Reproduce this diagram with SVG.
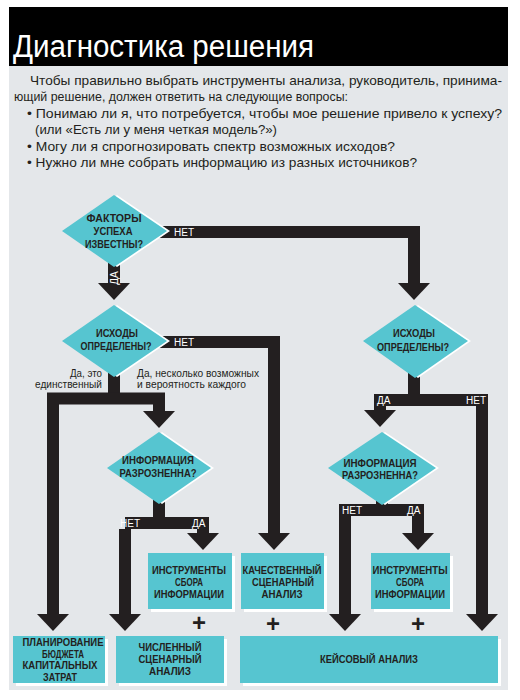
<svg xmlns="http://www.w3.org/2000/svg" width="520" height="700" viewBox="0 0 520 700">
<defs>
<style>
.body{font-family:"Liberation Sans",Arial,sans-serif;font-size:13px;fill:#231f20}
.title{font-family:"Liberation Sans",Arial,sans-serif;font-size:31px;fill:#ffffff}
.nt{font-family:"Liberation Sans",Arial,sans-serif;font-size:11.5px;font-weight:bold;fill:#231f20;text-anchor:middle}
.nt4{font-family:"Liberation Sans",Arial,sans-serif;font-size:10.5px;font-weight:bold;fill:#231f20;text-anchor:middle}
.bl{font-family:"Liberation Sans",Arial,sans-serif;font-size:10px;fill:#ffffff}
.sm{font-family:"Liberation Sans",Arial,sans-serif;font-size:10px;fill:#231f20}
.plus{font-family:"Liberation Sans",Arial,sans-serif;font-size:24px;font-weight:bold;fill:#231f20;text-anchor:middle}
.teal{fill:#56c5d0}
.shd{fill:#ffffff}
.bar{fill:none;stroke:#231f20;stroke-width:12;stroke-linejoin:miter;stroke-linecap:butt}
.arr{fill:none;stroke:#231f20;stroke-width:12;stroke-linejoin:miter;stroke-linecap:butt;marker-end:url(#ah)}
</style>
<marker id="ah" viewBox="0 -16 17 32" refX="0" refY="0" markerUnits="userSpaceOnUse" markerWidth="17" markerHeight="32" orient="auto">
<path d="M0,-16 L17,0 L0,16 Z" fill="#231f20"/>
</marker>
</defs>
<rect x="0" y="0" width="520" height="700" fill="#ffffff"/>
<rect x="9" y="66" width="499" height="624" fill="#e4e7ea"/>
<g id="header">
<rect x="9" y="7" width="499" height="59" fill="#000000"/>
<text class="title" x="13" y="57" textLength="301" lengthAdjust="spacingAndGlyphs">Диагностика решения</text>
</g>
<g id="intro">
<text class="body" x="30" y="85" textLength="472" lengthAdjust="spacingAndGlyphs">Чтобы правильно выбрать инструменты анализа, руководитель, принима-</text>
<text class="body" x="14" y="101" textLength="334" lengthAdjust="spacingAndGlyphs">ющий решение, должен ответить на следующие вопросы:</text>
<text class="body" x="27" y="118" textLength="475" lengthAdjust="spacingAndGlyphs">• Понимаю ли я, что потребуется, чтобы мое решение привело к успеху?</text>
<text class="body" x="35" y="134" textLength="242" lengthAdjust="spacingAndGlyphs">(или «Есть ли у меня четкая модель?»)</text>
<text class="body" x="27" y="151" textLength="368" lengthAdjust="spacingAndGlyphs">• Могу ли я спрогнозировать спектр возможных исходов?</text>
<text class="body" x="27" y="167" textLength="390" lengthAdjust="spacingAndGlyphs">• Нужно ли мне собрать информацию из разных источников?</text>
</g>
<g id="connectors">
<path class="arr" d="M114,232 H414 V283"/>
<path class="arr" d="M114,231 V283"/>
<path class="arr" d="M114,342 H274 V533"/>
<path class="bar" d="M114,341 V399"/>
<path class="arr" d="M53,614 V398.5 H159 V411"/>
<path class="arr" d="M53,404 V614"/>
<path class="bar" d="M159,468 V524"/>
<path class="arr" d="M125,529 V614"/>
<path class="arr" d="M125,523 H203 V533"/>
<path class="bar" d="M414,341 V401"/>
<path class="arr" d="M380,400 H482 V614"/>
<path class="arr" d="M386,400 H380 V410"/>
<path class="bar" d="M382,468 V511"/>
<path class="arr" d="M418,510 H345 V614"/>
<path class="arr" d="M412,510 H418 V533"/>
<text class="bl" x="174" y="236">НЕТ</text>
<text class="bl" x="174" y="346">НЕТ</text>
<text class="bl" x="377" y="404">ДА</text>
<text class="bl" x="466" y="404">НЕТ</text>
<text class="bl" x="342" y="514">НЕТ</text>
<text class="bl" x="407" y="514">ДА</text>
<text class="bl" x="120" y="527">НЕТ</text>
<text class="bl" x="192" y="527">ДА</text>
<text class="bl" transform="translate(118,278) rotate(-90)" text-anchor="middle">ДА</text>
<text class="sm" x="102" y="377" text-anchor="end" textLength="32" lengthAdjust="spacingAndGlyphs">Да, это</text>
<text class="sm" x="102" y="388" text-anchor="end" textLength="67" lengthAdjust="spacingAndGlyphs">единственный</text>
<text class="sm" x="137" y="377" textLength="122" lengthAdjust="spacingAndGlyphs">Да, несколько возможных</text>
<text class="sm" x="137" y="388" textLength="109" lengthAdjust="spacingAndGlyphs">и вероятность каждого</text>
</g>
<g id="d1">
<polygon class="shd" points="117,195 170,231 117,267 65,231"/>
<polygon class="teal" points="114,195 167,231 114,267 62,231"/>
<text class="nt" x="114" y="222" textLength="55" lengthAdjust="spacingAndGlyphs">ФАКТОРЫ</text>
<text class="nt" x="113" y="235" textLength="39" lengthAdjust="spacingAndGlyphs">УСПЕХА</text>
<text class="nt" x="114" y="248" textLength="58" lengthAdjust="spacingAndGlyphs">ИЗВЕСТНЫ?</text>
</g>
<g id="d2l">
<polygon class="shd" points="117,305 170,341 117,377 65,341"/>
<polygon class="teal" points="114,305 167,341 114,377 62,341"/>
<text class="nt" x="117" y="337" textLength="42" lengthAdjust="spacingAndGlyphs">ИСХОДЫ</text>
<text class="nt" x="116" y="350" textLength="71" lengthAdjust="spacingAndGlyphs">ОПРЕДЕЛЕНЫ?</text>
</g>
<g id="d2r">
<polygon class="shd" points="418,305 471,341 418,378 366,341"/>
<polygon class="teal" points="415,305 468,341 415,378 363,341"/>
<text class="nt" x="414" y="337" textLength="42" lengthAdjust="spacingAndGlyphs">ИСХОДЫ</text>
<text class="nt" x="413" y="351" textLength="72" lengthAdjust="spacingAndGlyphs">ОПРЕДЕЛЕНЫ?</text>
</g>
<g id="d3l">
<polygon class="shd" points="162,432 214,468 162,504 110,468"/>
<polygon class="teal" points="159,432 211,468 159,504 107,468"/>
<text class="nt" x="158" y="464" textLength="72" lengthAdjust="spacingAndGlyphs">ИНФОРМАЦИЯ</text>
<text class="nt" x="158" y="477" textLength="77" lengthAdjust="spacingAndGlyphs">РАЗРОЗНЕННА?</text>
</g>
<g id="d3r">
<polygon class="shd" points="385,432 439,468 385,505 331,468"/>
<polygon class="teal" points="382,432 436,468 382,505 328,468"/>
<text class="nt" x="380" y="467" textLength="73" lengthAdjust="spacingAndGlyphs">ИНФОРМАЦИЯ</text>
<text class="nt" x="380" y="479" textLength="76" lengthAdjust="spacingAndGlyphs">РАЗРОЗНЕННА?</text>
</g>
<g id="b-info-l">
<rect class="shd" x="151" y="556" width="84" height="56"/>
<rect class="teal" x="148" y="553" width="84" height="56"/>
<text class="nt" x="189" y="574" textLength="74" lengthAdjust="spacingAndGlyphs">ИНСТРУМЕНТЫ</text>
<text class="nt" x="189" y="586" textLength="28" lengthAdjust="spacingAndGlyphs">СБОРА</text>
<text class="nt" x="189" y="598" textLength="70" lengthAdjust="spacingAndGlyphs">ИНФОРМАЦИИ</text>
</g>
<g id="b-qual">
<rect class="shd" x="244" y="556" width="83" height="56"/>
<rect class="teal" x="241" y="553" width="83" height="56"/>
<text class="nt" x="282" y="574" textLength="79" lengthAdjust="spacingAndGlyphs">КАЧЕСТВЕННЫЙ</text>
<text class="nt" x="283" y="586" textLength="62" lengthAdjust="spacingAndGlyphs">СЦЕНАРНЫЙ</text>
<text class="nt" x="282" y="598" textLength="41" lengthAdjust="spacingAndGlyphs">АНАЛИЗ</text>
</g>
<g id="b-info-r">
<rect class="shd" x="374" y="556" width="79" height="56"/>
<rect class="teal" x="371" y="553" width="79" height="56"/>
<text class="nt" x="410" y="574" textLength="75" lengthAdjust="spacingAndGlyphs">ИНСТРУМЕНТЫ</text>
<text class="nt" x="410" y="586" textLength="28" lengthAdjust="spacingAndGlyphs">СБОРА</text>
<text class="nt" x="410" y="598" textLength="70" lengthAdjust="spacingAndGlyphs">ИНФОРМАЦИИ</text>
</g>
<g id="b-capex">
<rect class="shd" x="16" y="639" width="92" height="47"/>
<rect class="teal" x="13" y="636" width="92" height="47"/>
<text class="nt4" x="63" y="646" textLength="81" lengthAdjust="spacingAndGlyphs">ПЛАНИРОВАНИЕ</text>
<text class="nt4" x="63" y="657.5" textLength="42" lengthAdjust="spacingAndGlyphs">БЮДЖЕТА</text>
<text class="nt4" x="60" y="669" textLength="75" lengthAdjust="spacingAndGlyphs">КАПИТАЛЬНЫХ</text>
<text class="nt4" x="60" y="680.5" textLength="34" lengthAdjust="spacingAndGlyphs">ЗАТРАТ</text>
</g>
<g id="b-quant">
<rect class="shd" x="119" y="639" width="108" height="47"/>
<rect class="teal" x="116" y="636" width="108" height="47"/>
<text class="nt" x="170" y="651" textLength="63" lengthAdjust="spacingAndGlyphs">ЧИСЛЕННЫЙ</text>
<text class="nt" x="170" y="663" textLength="63" lengthAdjust="spacingAndGlyphs">СЦЕНАРНЫЙ</text>
<text class="nt" x="170" y="675" textLength="42" lengthAdjust="spacingAndGlyphs">АНАЛИЗ</text>
</g>
<g id="b-case">
<rect class="shd" x="243" y="639" width="258" height="47"/>
<rect class="teal" x="240" y="636" width="258" height="47"/>
<text class="nt" x="369" y="663" textLength="98" lengthAdjust="spacingAndGlyphs">КЕЙСОВЫЙ АНАЛИЗ</text>
</g>
<g id="plus">
<text class="plus" x="199" y="631">+</text>
<text class="plus" x="273" y="632">+</text>
<text class="plus" x="418" y="632">+</text>
</g>
</svg>
